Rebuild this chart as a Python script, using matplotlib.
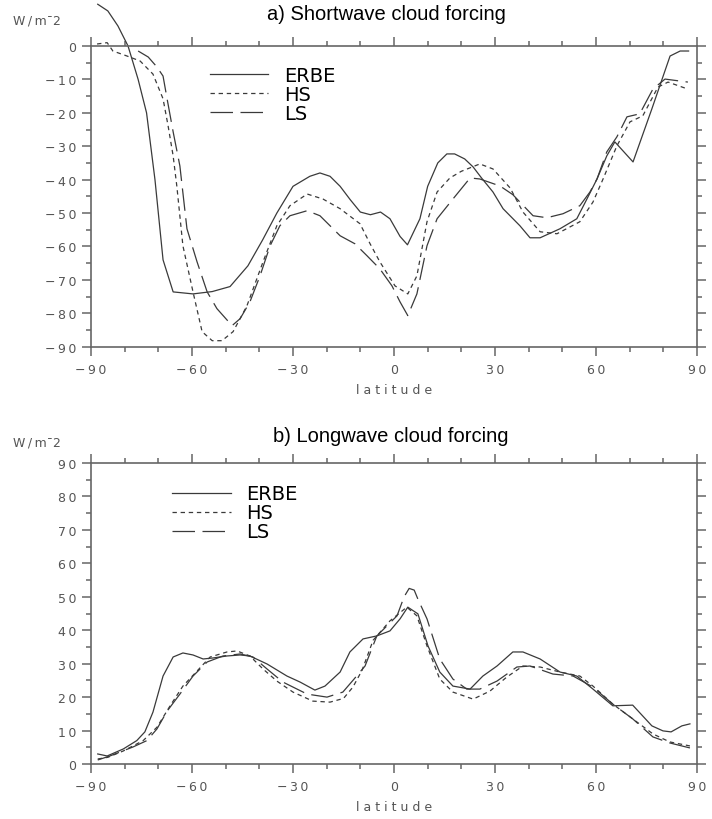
import numpy as np
import matplotlib
matplotlib.use("Agg")
import matplotlib.pyplot as plt
from matplotlib.ticker import MultipleLocator, FuncFormatter

# --- data ---
# a) shortwave cloud forcing
sw_erbe_lat = [-88, -85, -82, -79, -76, -73.5, -71, -68.6, -65.6, -59.7, -54, -48.7, -43.4, -39, -34.8,
               -30, -25, -22, -19, -16, -13, -10, -7, -4, -1.2, 1.8, 4, 7.7, 10, 13, 15.7, 18, 21, 23.5,
               26, 29.4, 32.4, 37.4, 40.4, 43.4, 49.3, 54.3, 57.3, 60.3, 63.2, 65.6, 71, 76.6, 82, 85, 87.5]
sw_erbe = [12.5, 10.5, 6, 0, -10, -20, -40, -64, -73.6, -74.2, -73.5, -72, -65.8, -58, -50,
           -42, -39, -38, -39, -42, -46, -49.7, -50.5, -49.7, -51.7, -57, -59.5, -51.7, -42, -35, -32.3, -32.3, -33.8, -36.2,
           -39.5, -43.7, -48.7, -53.8, -57.4, -57.4, -54.7, -51.7, -45.8, -39.8, -32.9, -28.7, -34.7, -18.8, -3, -1.5, -1.5]

sw_hs_lat = [-88.2, -85.2, -83.5, -79.3, -75.4, -71.6, -68.6, -67.1, -65.6, -64.5, -62.7, -59.7, -57, -54, -51.1,
             -47.8, -43.7, -38.9, -34.8, -30.9, -25.8, -21.1, -16, -10.1, -7.1, -4.2, 0.3, 4.1, 6.8, 9.8, 12.8,
             16.6, 20, 25.5, 29.4, 34.5, 38.3, 43.4, 48.4, 55.2, 59.1, 62.1, 66.2, 70.1, 73.9, 78.4, 81.4, 87.3]
sw_hs = [0.6, 1.0, -1.5, -3, -4.5, -8.4, -15.8, -23.9, -32.9, -42, -59.8, -73.6, -85.5, -88.2, -88.2,
         -85.5, -77.8, -64.6, -53.8, -47.8, -44.3, -45.8, -48.7, -53.2, -59.2, -64.6, -71.8, -74.2, -68.8, -52.6, -43.7,
         -39.5, -37.5, -35.3, -36.8, -42.5, -49.7, -55.6, -56.2, -52.6, -46.7, -39.8, -29.9, -22.7, -20.9, -12.3, -10.8, -12.9]

sw_ls_lat = [-76, -73, -70.4, -68.6, -67.4, -65.6, -63.6, -61.5, -58.5, -55.5, -52.6, -48.1, -45.7, -42.8, -39.8,
             -36.8, -33.9, -30.9, -25.8, -22, -16, -11.6, -8, -4.2, -0.6, 1.8, 4.1, 6.8, 9.8, 12.8, 17.5,
             22.6, 25.5, 31.5, 35.3, 41.3, 45.4, 50.2, 55.2, 58.2, 60.3, 63.2, 66.2, 69.2, 73, 76.9, 80.5, 87.3]
sw_ls = [-1.5, -3.3, -6.3, -9, -15.8, -25.7, -35.9, -54.7, -64.6, -73.6, -78.6, -83.7, -81.6, -76.6, -68.8,
         -59.8, -53.8, -50.8, -49.3, -50.8, -56.8, -59.2, -62.8, -66.7, -71.8, -76.6, -80.7, -74.2, -59.8, -51.7, -45.8,
         -39.5, -39.8, -41.9, -44.5, -50.8, -51.4, -50.2, -47.8, -43.7, -39.8, -31.7, -27.2, -21.2, -20.3, -12.9, -9.9, -10.8]

# b) longwave cloud forcing
lw_erbe_lat = [-88, -85.2, -80.4, -76.4, -74, -71.6, -68.6, -65.6, -62.7, -59.7, -56.7, -53.8, -49.6, -45.7, -42.8,
               -37.7, -31.8, -27.9, -23.5, -20.5, -16, -13.1, -9.2, -5.1, -1.2, 1.8, 4.1, 7.1, 10.1, 13.6, 17.5,
               22.6, 26.4, 30.6, 35.3, 38.3, 43.4, 49.3, 54.3, 59.1, 65, 70.9, 76.6, 79.9, 82.3, 85.5, 87.9]
lw_erbe = [3, 2.4, 4.5, 7, 9.6, 15.5, 26.3, 32, 33.2, 32.6, 31.4, 31.7, 32.3, 32.6, 32.3,
           29.9, 26.3, 24.5, 22.1, 23.3, 27.5, 33.5, 37.4, 38.3, 39.8, 43.4, 46.9, 44.9, 35.3, 27.5, 23.3,
           22.4, 26.3, 29.3, 33.5, 33.5, 31.4, 27.5, 26.3, 22.4, 17.4, 17.6, 11.4, 9.9, 9.6, 11.4, 12]

lw_hs_lat = [-88, -85, -80.4, -74.5, -70.4, -66.5, -62.7, -58.5, -54.6, -49.6, -46.6, -42.8, -38.9, -34.8, -30,
             -24.1, -19, -15, -12.2, -9.5, -6.2, -1.2, 3.8, 6.8, 9.8, 13.6, 17.5, 23.5, 28.5, 33.5, 38.3,
             43.4, 49.3, 55.2, 59.1, 65, 70.1, 76.9, 81.9, 87.9]
lw_hs = [1.5, 2, 3.9, 7, 11, 17.4, 23.3, 27.8, 32, 33.5, 33.8, 32.3, 28.4, 24.8, 21.5,
         18.8, 18.5, 19.6, 23, 28, 37, 42.8, 46.9, 44.3, 35.3, 25.4, 21.5, 19.4, 21.8, 26, 29.3,
         29, 27.5, 26.3, 23.3, 17.9, 14.1, 9, 6.6, 5.4]

lw_ls_lat = [-88, -84.4, -77.5, -73.4, -70.4, -67.4, -63.6, -59.7, -55.5, -50.8, -45.7, -41.9, -37.7, -33, -25.8,
             -19.9, -15.2, -12.2, -8.6, -5.1, -2.1, 0.9, 3, 4.5, 6, 7.1, 9.8, 13.6, 17.5, 21.6, 25.5,
             30.6, 36.5, 40.4, 47.2, 53.2, 59.1, 65, 70.9, 76.9, 81.9, 87.9]
lw_ls = [1.2, 2.4, 5.1, 7, 10.5, 15.8, 20.9, 26.3, 30.5, 32.3, 32.9, 32, 28.4, 24.5, 20.9,
         20, 21.5, 25, 29.3, 38.3, 41.3, 44.3, 50, 52.5, 52, 49.3, 43.4, 31.4, 25.4, 22.4, 22.4,
         24.8, 29, 29.3, 26.9, 26.3, 23, 17.9, 13.5, 8.1, 6.3, 4.8]

series_names = ["ERBE", "HS", "LS"]
panel_titles = ["a) Shortwave cloud forcing", "b) Longwave cloud forcing"]

# --- style ---
matplotlib.rcParams.update({
    "font.family": ["DejaVu Sans"],
    "axes.edgecolor": "#666666",
    "axes.linewidth": 1.2,
})
line_col = "#3a3a3a"
tick_col = "#555555"
styles = [dict(linestyle="-"),
          dict(linestyle=(0, (3.5, 3))),
          dict(linestyle=(0, (18, 6)))]


def tick_fmt(v, pos):
    # 標籤字元間加細空白，模仿原圖的寬字距
    s = f"{int(round(v))}".replace("-", "\u2212")
    return "\u2009".join(s)


def setup_axis(ax, ylim):
    ax.set_xlim(-90, 90)
    ax.set_ylim(*ylim)
    ax.xaxis.set_major_locator(MultipleLocator(30))
    ax.xaxis.set_minor_locator(MultipleLocator(10))
    ax.yaxis.set_major_locator(MultipleLocator(10))
    ax.yaxis.set_minor_locator(MultipleLocator(5))
    ax.xaxis.set_major_formatter(FuncFormatter(tick_fmt))
    ax.yaxis.set_major_formatter(FuncFormatter(tick_fmt))
    ax.tick_params(which="both", direction="out", top=True, right=True,
                   color="#666666", width=1.1, labelcolor=tick_col, labelsize=9)
    ax.tick_params(which="major", length=6.5, pad=4)
    ax.tick_params(which="minor", length=3.5)
    ax.tick_params(axis="x", which="major", pad=5)
    ax.set_xlabel("l a t i t u d e", fontsize=9, color=tick_col, labelpad=5)


fig = plt.figure(figsize=(7.12, 8.2), dpi=100)
W, H = 712, 820
ax1 = fig.add_axes([91 / W, 1 - 347.7 / H, 606 / W, 300.7 / H])
ax2 = fig.add_axes([91 / W, 1 - 765 / H, 606 / W, 301 / H])

# panel a
for lat, val, name, st in zip([sw_erbe_lat, sw_hs_lat, sw_ls_lat], [sw_erbe, sw_hs, sw_ls], series_names, styles):
    ax1.plot(lat, val, color=line_col, linewidth=0.9, label=name, clip_on=False, **st)
setup_axis(ax1, (-90, 0))

# panel b
for lat, val, name, st in zip([lw_erbe_lat, lw_hs_lat, lw_ls_lat], [lw_erbe, lw_hs, lw_ls], series_names, styles):
    ax2.plot(lat, val, color=line_col, linewidth=0.9, label=name, **st)
setup_axis(ax2, (0, 90))

# legends
for ax, x0, y0 in [(ax1, 0.196, 0.935), (ax2, 0.134, 0.929)]:
    ax.legend(loc="upper left", bbox_to_anchor=(x0, y0), frameon=False, fontsize=14,
              handlelength=3.0, handletextpad=0.8, labelspacing=0.0,
              borderpad=0, borderaxespad=0)

# titles and units
fig.text(386 / W, 1 - 15 / H, panel_titles[0], ha="center", va="center", fontsize=14.5,
         family="Liberation Sans")
fig.text(391 / W, 1 - 437 / H, panel_titles[1], ha="center", va="center", fontsize=14.5,
         family="Liberation Sans")
for yy in [21, 443]:
    fig.text(13 / W, 1 - yy / H, "W\u2009/\u2009m\u00af2", ha="left", va="center",
             fontsize=9, color=tick_col)

fig.savefig("out.png", dpi=100)
